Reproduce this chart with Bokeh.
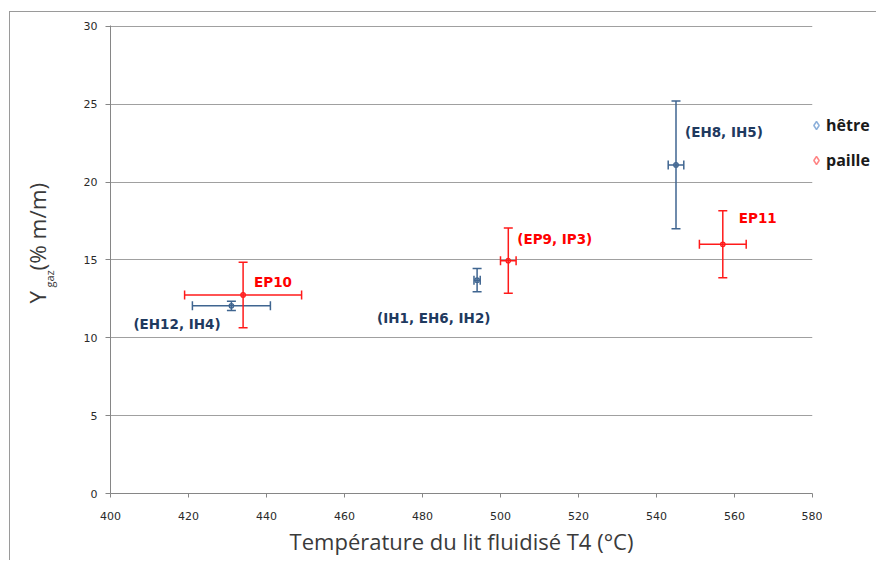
import math
from bokeh.plotting import figure
from bokeh.layouts import row
from bokeh.models import (ColumnDataSource, Whisker, TeeHead, Range1d, Label,
                          Legend, LegendItem, FixedTicker)
from bokeh.core.properties import value
from bokeh.embed import file_html
from bokeh.resources import INLINE

# ---------------- data ----------------
hetre_names = ["(EH12, IH4)", "(IH1, EH6, IH2)", "(EH8, IH5)"]
hetre_T = [431.0, 494.0, 545.0]
hetre_T_err = [10.0, 0.8, 2.0]
hetre_Y = [12.05, 13.7, 21.1]
hetre_Y_err = [0.3, 0.75, 4.1]

paille_names = ["EP10", "(EP9, IP3)", "EP11"]
paille_T = [434.0, 502.0, 557.0]
paille_T_err = [15.0, 2.0, 6.0]
paille_Y = [12.75, 14.95, 16.0]
paille_Y_err = [2.1, 2.1, 2.15]

x_ticks = [400, 420, 440, 460, 480, 500, 520, 540, 560, 580]
y_ticks = [0, 5, 10, 15, 20, 25, 30]
series_labels = ["hêtre", "paille"]
x_title = "Température du lit fluidisé T4 (°C)"
y_title_parts = ["Y", "gaz", "(% m/m)"]

# ---------------- styles ----------------
BLUE_BAR = "#3F6590"
BLUE_TXT = "#1F3A5F"
RED = "#FF1A1A"
RED_TXT = "#FF0000"
AXIS = "#868686"
GRID = "#a0a0a0"
TITLE = "#3a3a3a"
H = 548

def blank_strip(width, **kw):
    f = figure(width=width, height=H, output_backend="svg", toolbar_location=None,
               x_axis_type=None, y_axis_type=None, min_border=0,
               x_range=Range1d(0, 1), y_range=Range1d(0, 1), **kw)
    f.outline_line_color = None
    f.xgrid.visible = False
    f.ygrid.visible = False
    return f

# left strip holding the rotated y title (with its subscript)
ylab = blank_strip(60)
for txt, xx, yy, fs in ((y_title_parts[0], 27, 190, "22.5px"),
                        (y_title_parts[1], 39, 206, "11px"),
                        (y_title_parts[2], 27, 223, "22.5px")):
    ylab.add_layout(Label(x=xx, y=yy, x_units="screen", y_units="screen", text=txt,
                          angle=math.pi / 2, text_font="Open Sans", text_font_size=fs,
                          text_color=TITLE, text_align="left",
                          text_baseline="alphabetic"))

p = figure(width=752, height=H, output_backend="svg", toolbar_location=None,
           x_range=Range1d(400, 580), y_range=Range1d(0, 30.05),
           min_border_left=40, min_border_right=10, min_border_top=13,
           min_border_bottom=67)
p.outline_line_color = None

p.xgrid.grid_line_color = None
p.ygrid.grid_line_color = GRID
p.ygrid.grid_line_width = 1

for ax, ticks in ((p.xaxis, x_ticks), (p.yaxis, y_ticks)):
    ax.ticker = FixedTicker(ticks=ticks)
    ax.axis_line_color = AXIS
    ax.major_tick_line_color = AXIS
    ax.minor_tick_line_color = None
    ax.major_tick_in = 0
    ax.major_label_text_font = "DejaVu Sans"
    ax.major_label_text_font_size = "11px"
    ax.major_label_text_color = "#2a2a2a"
p.xaxis.major_tick_out = 4
p.yaxis.major_tick_out = 5
p.xaxis.major_label_standoff = 14
p.yaxis.major_label_standoff = 8
p.xaxis.axis_label = x_title
p.xaxis.axis_label_text_font = "Open Sans"
p.xaxis.axis_label_text_font_style = "normal"
p.xaxis.axis_label_text_font_size = "22px"
p.xaxis.axis_label_text_color = TITLE
p.xaxis.axis_label_standoff = 3

def add_series(names, T, Terr, Y, Yerr, bar_color, txt_color, offsets):
    src = ColumnDataSource(dict(
        T=T, Y=Y, names=names,
        x_lo=[t - e for t, e in zip(T, Terr)], x_hi=[t + e for t, e in zip(T, Terr)],
        y_lo=[y - e for y, e in zip(Y, Yerr)], y_hi=[y + e for y, e in zip(Y, Yerr)],
        dx=[o[0] for o in offsets], dy=[o[1] for o in offsets],
    ))
    for dim, lo, hi, base in (("height", "y_lo", "y_hi", "T"), ("width", "x_lo", "x_hi", "Y")):
        w = Whisker(source=src, base=base, lower=lo, upper=hi, dimension=dim,
                    line_color=bar_color, line_width=1.5,
                    lower_head=TeeHead(size=9, line_color=bar_color, line_width=1.5),
                    upper_head=TeeHead(size=9, line_color=bar_color, line_width=1.5))
        p.add_layout(w)
    p.scatter("T", "Y", source=src, marker="circle", size=4.5, line_color=bar_color,
              fill_color=bar_color, fill_alpha=0.25, line_width=1.2)
    p.text("T", "Y", text="names", source=src, x_offset="dx", y_offset="dy",
           text_font=value("DejaVu Sans"), text_font_style="bold",
           text_font_size="13.5px", text_color=txt_color,
           text_align="left", text_baseline="middle")

add_series(hetre_names, hetre_T, hetre_T_err, hetre_Y, hetre_Y_err, BLUE_BAR, BLUE_TXT,
           [(-98, 18), (-100, 38), (9, -33)])
add_series(paille_names, paille_T, paille_T_err, paille_Y, paille_Y_err, RED, RED_TXT,
           [(11, -13), (9, -22), (16, -26)])

# right strip holding the legend; it overlaps the main figure's right border a little
legfig = blank_strip(70, styles={"margin-left": "-16px"})
legfig.background_fill_alpha = 0
legfig.border_fill_alpha = 0
# series points, out of this strip's view: they only provide the legend glyphs
leg_h = legfig.scatter(hetre_T, hetre_Y, marker="diamond", size=9, line_color="#8DB0DA",
                       fill_color="white", line_width=1.5)
leg_p = legfig.scatter(paille_T, paille_Y, marker="diamond", size=9, line_color="#FF8585",
                       fill_color="white", line_width=1.5)
legend = Legend(items=[LegendItem(label=series_labels[0], renderers=[leg_h]),
                       LegendItem(label=series_labels[1], renderers=[leg_p])],
                location=(0, 321), padding=0, margin=0, spacing=11,
                glyph_width=20, glyph_height=24, label_height=24, label_standoff=0,
                label_text_font="Open Sans", label_text_font_style="bold",
                label_text_font_size="16px", label_text_color="#1a1a1a",
                border_line_color=None, background_fill_alpha=0)
legfig.add_layout(legend)

layout = row(ylab, p, legfig, spacing=0,
             styles={"margin-left": "9px", "margin-top": "11px",
                     "border-left": "1px solid #9a9a9a",
                     "border-top": "1px solid #9a9a9a"})

open("out.html", "w").write(file_html(layout, INLINE))
